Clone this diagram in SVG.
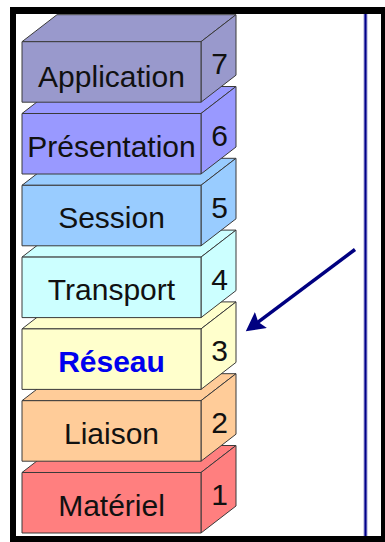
<svg xmlns="http://www.w3.org/2000/svg" xmlns:xlink="http://www.w3.org/1999/xlink" width="385" height="542" viewBox="0 0 385 542">
  <style>
    .edge { stroke: #3a3a3a; stroke-width: 1; stroke-linejoin: round; }
    .label { font-family: "Liberation Sans", Arial, sans-serif; font-size: 30px; fill: #111; text-anchor: middle; }
    .num { font-family: "Liberation Sans", Arial, sans-serif; font-size: 30px; fill: #111; text-anchor: middle; }
    .hot { font-weight: bold; fill: #0000ee; }
  </style>
  <defs>
    <!-- one layer block: front face, top face, right face; fill comes from the <use> -->
    <g id="block" class="edge">
      <polygon points="22,0 201,0 236,-27 57,-27"/>
      <polygon points="201,0 236,-27 236,33.5 201,60.5"/>
      <rect x="22" y="0" width="179" height="60.5"/>
    </g>
    <marker id="head" markerUnits="userSpaceOnUse" markerWidth="20" markerHeight="20" viewBox="0 0 18 18" refX="7" refY="9" orient="auto">
      <path d="M0,0 L17,9 L0,18 L3,9 z" fill="#000080"/>
    </marker>
  </defs>

  <!-- frame -->
  <rect x="10" y="7" width="375" height="535" fill="#000"/>
  <rect x="16" y="14" width="365" height="522" fill="#fff"/>

  <!-- stack, drawn bottom layer first so upper blocks overlap -->
  <g id="layer1">
    <use xlink:href="#block" transform="translate(0,472.5)" fill="#ff7f7f"/>
    <text class="label" x="111.5" y="515.5">Matériel</text>
    <text class="num" x="219.5" y="505">1</text>
  </g>
  <g id="layer2">
    <use xlink:href="#block" transform="translate(0,400.7)" fill="#ffcc99"/>
    <text class="label" x="111.5" y="443.7">Liaison</text>
    <text class="num" x="219.5" y="433.2">2</text>
  </g>
  <g id="layer3">
    <use xlink:href="#block" transform="translate(0,328.9)" fill="#ffffcc"/>
    <text class="label hot" x="111.5" y="371.9">Réseau</text>
    <text class="num" x="219.5" y="361.4">3</text>
  </g>
  <g id="layer4">
    <use xlink:href="#block" transform="translate(0,257.1)" fill="#ccffff"/>
    <text class="label" x="111.5" y="300.1">Transport</text>
    <text class="num" x="219.5" y="289.6">4</text>
  </g>
  <g id="layer5">
    <use xlink:href="#block" transform="translate(0,185.3)" fill="#99ccff"/>
    <text class="label" x="111.5" y="228.3">Session</text>
    <text class="num" x="219.5" y="217.8">5</text>
  </g>
  <g id="layer6">
    <use xlink:href="#block" transform="translate(0,113.5)" fill="#9999ff"/>
    <text class="label" x="111.5" y="156.5">Présentation</text>
    <text class="num" x="219.5" y="146">6</text>
  </g>
  <g id="layer7">
    <use xlink:href="#block" transform="translate(0,41.7)" fill="#9999cc"/>
    <text class="label" x="111.5" y="86.7">Application</text>
    <text class="num" x="219.5" y="74.2">7</text>
  </g>

  <!-- vertical rule on the right -->
  <g id="rule">
    <line x1="365.5" y1="14" x2="365.5" y2="536" stroke="#a4a4d4" stroke-width="4"/>
    <line x1="365.5" y1="14" x2="365.5" y2="536" stroke="#00008b" stroke-width="2"/>
  </g>

  <g id="connectors">
    <line x1="355" y1="249.5" x2="254.7" y2="324.7" stroke="#000080" stroke-width="3.5" marker-end="url(#head)"/>
  </g>
</svg>
